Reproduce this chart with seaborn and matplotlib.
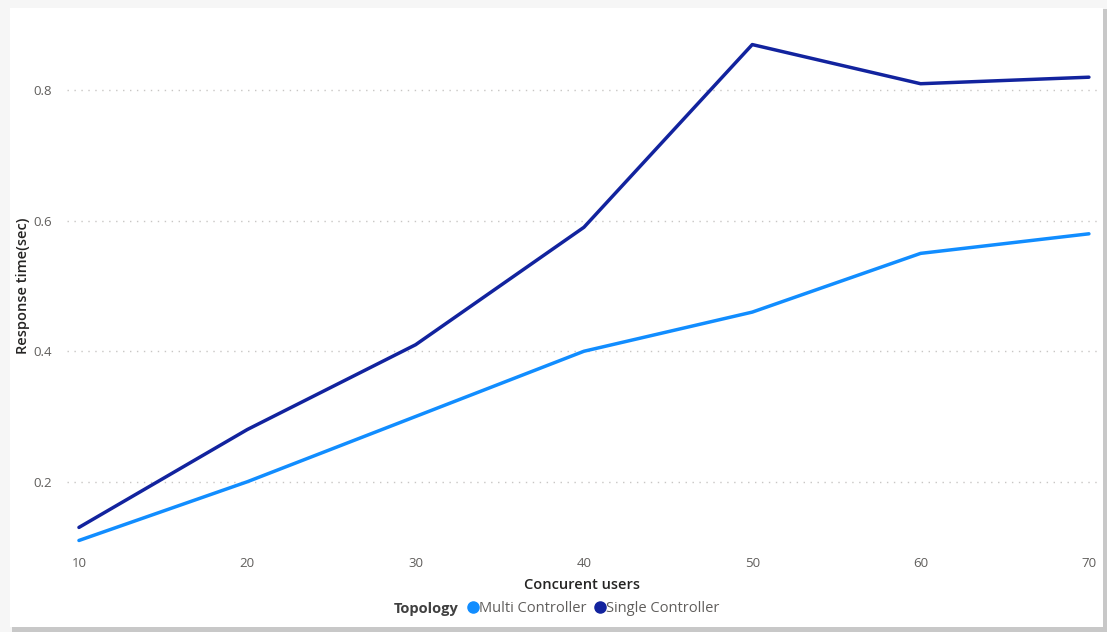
import matplotlib
matplotlib.use("Agg")
import matplotlib.pyplot as plt
from matplotlib.lines import Line2D
from matplotlib.patches import Rectangle
import pandas as pd
import seaborn as sns

# Concurrent users tested and measured response times (seconds)
users = [10, 20, 30, 40, 50, 60, 70]
multi_controller = [0.11, 0.20, 0.30, 0.40, 0.46, 0.55, 0.58]
single_controller = [0.13, 0.28, 0.41, 0.59, 0.87, 0.81, 0.82]
series_names = ["Multi Controller", "Single Controller"]
y_ticks = [0.2, 0.4, 0.6, 0.8]
x_ticks = users

colors = {"Multi Controller": "#118DFF", "Single Controller": "#12239E"}

df = pd.DataFrame({
    "Concurent users": users * 2,
    "Response time(sec)": multi_controller + single_controller,
    "Topology": [series_names[0]] * len(users) + [series_names[1]] * len(users),
})

sns.set_theme(style="white")
plt.rcParams["font.family"] = ["Open Sans", "DejaVu Sans"]

W, H = 1107, 632
fig = plt.figure(figsize=(W / 100, H / 100), dpi=100)
fig.patch.set_facecolor("#F6F6F6")

# Card with soft shadow, kept beneath the axes
fig.patches.append(Rectangle((12 / W, 0.0), (W - 10) / W, (H - 9) / H,
                             transform=fig.transFigure, facecolor="#C8C8C8",
                             edgecolor="none", zorder=-20))
fig.patches.append(Rectangle((10 / W, 5 / H), (W - 14) / W, (H - 13) / H,
                             transform=fig.transFigure, facecolor="white",
                             edgecolor="none", zorder=-10))

ax = fig.add_axes([67 / W, 1 - 547 / H, (1097 - 67) / W, (547 - 25) / H])
ax.set_facecolor("none")

sns.lineplot(data=df, x="Concurent users", y="Response time(sec)", hue="Topology",
             palette=colors, linewidth=2.5, ax=ax, legend=False)

ax.set_xlim(9.29, 70.48)
ax.set_ylim(0.1, 0.9)
ax.set_xticks(x_ticks)
ax.set_yticks(y_ticks)
ax.set_xticklabels([str(v) for v in x_ticks])
ax.set_yticklabels([f"{v:.1f}" for v in y_ticks])
ax.tick_params(axis="both", length=0, labelsize=9.5, labelcolor="#605E5C")
ax.tick_params(axis="x", pad=7)
ax.tick_params(axis="y", pad=11)
ax.grid(axis="y", linestyle=(0, (1, 4)), color="#C8C6C4", linewidth=1)
ax.grid(axis="x", visible=False)
for s in ax.spines.values():
    s.set_visible(False)

ax.set_xlabel("Concurent users", fontsize=10.5, color="#252423",
              fontweight="semibold", labelpad=6)
ax.set_ylabel("Response time(sec)", fontsize=10.5, color="#252423",
              fontweight="semibold", labelpad=2)

# Legend row: title followed by series entries
fig.text(394 / W, 1 - 609 / H, "Topology", fontsize=10.5, fontweight="bold",
         color="#404040", ha="left", va="center")
handles = [Line2D([], [], marker="o", linestyle="none", markersize=8,
                  markerfacecolor=colors[n], markeredgecolor=colors[n])
           for n in series_names]
leg = fig.legend(handles, series_names, loc="center left",
                 bbox_to_anchor=(466 / W, 1 - 609 / H), ncol=2, frameon=False,
                 handletextpad=-0.1, columnspacing=0.4, handlelength=1.0,
                 borderaxespad=0, borderpad=0, fontsize=10.5)
for t in leg.get_texts():
    t.set_color("#605E5C")

fig.savefig("out.png", dpi=100)
